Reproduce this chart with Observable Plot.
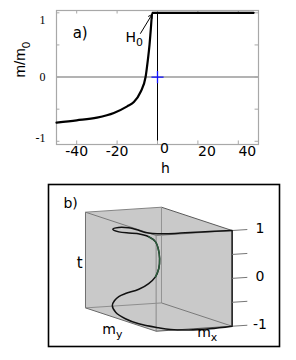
<!DOCTYPE html>
<html><head><meta charset="utf-8">
<script src="https://cdn.jsdelivr.net/npm/d3@7"></script>
<script src="https://cdn.jsdelivr.net/npm/@observablehq/plot@0.6"></script>
<style>
body{margin:0;background:#fff;}
#fig{position:relative;width:296px;height:360px;overflow:hidden;background:#fff;}
#fig svg{position:absolute;left:0;display:block;overflow:visible;}
</style></head><body><div id="fig"></div>
<script>
// ---------- panel a) data ----------
const hField = [-50, -40, -30, -21.6, -15, -11.7, -8.4, -5.9, -4.8, -3.95, -3.3, -2.6, 47.6];
const mNorm  = [-0.71, -0.674, -0.632, -0.56, -0.456, -0.39, -0.233, 0, 0.26, 0.5, 0.75, 1, 1];
const hTicks = [-40, -20, 0, 20, 40];
const mTicks = [-1, -0.5, 0, 0.5, 1];
const mTickLabels = [-1, 0, 1];
const fieldMarker = {h: 0, m: 0};
const h0Arrow = {h1: -8.4, m1: 0.68, h2: -2.7, m2: 0.975};
const h0Label = {h: -15.8, m: 0.62, text: "H_0"};
const panelALabel = {h: -42, m: 0.69, text: "a)"};

// ---------- panel b) data ----------
const cornerNames = ["A","B","C","D","E","F","G","H"];
const cornerMx = [-1, 1, 1, -1, -1, 1, 1, -1];
const cornerMy = [-1, -1, 1, 1, -1, -1, 1, 1];
const cornerT  = [1, 1, 1, 1, -1, -1, -1, -1];
const edgeFrom = ["A","B","C","D","A","B","C","D","E","F","G","H"];
const edgeTo   = ["B","C","D","A","E","F","G","H","F","G","H","E"];
const curveMx = [1, 0.34, -0.21, -0.57, -0.72, -0.89, -0.88, -0.69, -0.34, -0.28, -0.31, -0.44, -0.34, -0.22, -0.20, -0.27, -0.23, -0.23, -0.29, -0.45, -0.65, -0.80, -0.94, -0.96, -0.78, -0.71, -0.81, -0.94, -0.75, -0.30, 0.21, 1];
const curveMy = [1, 1.08, 1.07, 0.95, 0.77, 0.39, 0.0, -0.48, -0.95, -0.95, -0.80, -0.47, -0.20, -0.05, 0.12, 0.29, 0.27, 0.23, 0.22, 0.20, 0.08, 0.01, -0.12, -0.27, -0.30, -0.09, 0.30, 0.63, 0.91, 0.94, 0.96, 1];
const curveT  = [-1, -1, -1, -1, -1, -1, -0.99, -0.98, -0.97, -0.87, -0.75, -0.6, -0.45, -0.3, -0.12, 0.1, 0.3, 0.5, 0.64, 0.75, 0.8, 0.8, 0.8, 0.82, 0.84, 0.88, 0.93, 0.97, 1, 1, 1, 1];
const tTicks = [-1, -0.5, 0, 0.5, 1];
const tTickLabels = [-1, 0, 1];
const axisLabels3d = [
  {text: "b)",  mx: -1.58, my: -1, t: 1.21, anchor: "start"},
  {text: "t",   mx: -1.15, my: -1, t: -0.065, anchor: "middle"},
  {text: "m_y", mx: -1,    my: -0.525, t: -1.33, anchor: "start"},
  {text: "m_x", mx: 0.08,  my: 1, t: -1.09, anchor: "start"}
];

// oblique view of the (mx, my, t) box
const view = {mx: [0.794, 0.052], my: [0.738, -0.2435], t: [0, 1]};
const proj = (mx, my, t) => [view.mx[0]*mx + view.my[0]*my + view.t[0]*t,
                             view.mx[1]*mx + view.my[1]*my + view.t[1]*t];

function applySubscripts(root){
  root.querySelectorAll("text").forEach(el => {
    if (el.querySelector("tspan")) return;
    const s = el.textContent, k = s.indexOf("_");
    if (k < 0) return;
    el.textContent = s.slice(0, k);
    const ts = document.createElementNS("http://www.w3.org/2000/svg", "tspan");
    ts.setAttribute("dy", "0.38em");
    ts.setAttribute("font-size", "78%");
    ts.textContent = s.slice(k + 1);
    el.appendChild(ts);
  });
}

const fig = document.getElementById("fig");

// ---------- panel a ----------
const frameGray = "#a8a8a8";
const curveA = hField.map((h, i) => ({h, m: mNorm[i]}));
const yLo = -1.05, yHi = 1.036;
const plotA = Plot.plot({
  width: 296, height: 178,
  marginLeft: 56, marginRight: 38, marginTop: 10, marginBottom: 34,
  x: {domain: [-50, 50], axis: null},
  y: {domain: [yLo, yHi], axis: null},
  style: {fontFamily: "DejaVu Sans", fontSize: "13px", background: "transparent", color: "#000"},
  marks: [
    Plot.ruleY([0], {stroke: "#9a9a9a", strokeWidth: 1.4}),
    Plot.ruleX([0], {y1: yLo, y2: 1, stroke: "#000", strokeWidth: 1}),
    Plot.frame({stroke: frameGray, strokeWidth: 1.2}),
    Plot.ruleX(hTicks, {y1: yLo, y2: yLo + 0.055, stroke: frameGray}),
    Plot.ruleX(hTicks, {y1: yHi - 0.055, y2: yHi, stroke: frameGray}),
    Plot.ruleY(mTicks, {x1: -50, x2: -48.3, stroke: frameGray}),
    Plot.ruleY(mTicks, {x1: 48.3, x2: 50, stroke: frameGray}),
    Plot.line(curveA, {x: "h", y: "m", stroke: "#000", strokeWidth: 2.2, curve: "monotone-x"}),
    Plot.dot([fieldMarker], {x: "h", y: "m", symbol: "plus", r: 4, stroke: "#1010ff", strokeWidth: 1.3}),
    Plot.arrow([h0Arrow], {x1: "h1", y1: "m1", x2: "h2", y2: "m2", stroke: "#000", strokeWidth: 1, headLength: 6}),
    Plot.text([h0Label], {x: "h", y: "m", text: "text", textAnchor: "start", fontSize: 14}),
    Plot.text([panelALabel], {x: "h", y: "m", text: "text", textAnchor: "start", fontSize: 15}),
    // x tick labels
    Plot.text(hTicks.filter(v => v < 0), {x: d => d, frameAnchor: "bottom", dy: 11, text: d => String(d), fontSize: 14}),
    Plot.text(hTicks.filter(v => v === 0), {x: d => d, frameAnchor: "bottom", dy: 8, dx: 7, text: d => String(d), fontSize: 14}),
    Plot.text(hTicks.filter(v => v > 0), {x: d => d, frameAnchor: "bottom", dy: 11, dx: 9, text: d => String(d), fontSize: 14}),
    // y tick labels (serif)
    Plot.text(mTickLabels.filter(v => v > 0), {y: d => d, frameAnchor: "left", dx: -11, dy: 7, textAnchor: "end", text: d => String(d), fontFamily: "Liberation Serif", fontSize: 12}),
    Plot.text(mTickLabels.filter(v => v === 0), {y: d => d, frameAnchor: "left", dx: -11, dy: 0.5, textAnchor: "end", text: d => String(d), fontFamily: "Liberation Serif", fontSize: 12}),
    Plot.text(mTickLabels.filter(v => v < 0), {y: d => d, frameAnchor: "left", dx: -11, dy: -3.5, textAnchor: "end", text: d => String(d), fontFamily: "Liberation Serif", fontSize: 12}),
    // axis titles
    Plot.text(["h"], {frameAnchor: "bottom", dy: 28, dx: 8, text: d => d, fontSize: 14}),
    Plot.text(["m/m_0"], {frameAnchor: "left", dx: -36, rotate: -90, text: d => d, fontFamily: "Liberation Sans", fontSize: 15})
  ]
});
plotA.style.top = "0px";
applySubscripts(plotA);
fig.appendChild(plotA);

// ---------- panel b ----------
const corners = cornerNames.map((name, i) => {
  const [u, v] = proj(cornerMx[i], cornerMy[i], cornerT[i]);
  return {name, u, v};
});
const cornerByName = Object.fromEntries(corners.map(c => [c.name, c]));
const edges = edgeFrom.map((a, i) => ({a: cornerByName[a], b: cornerByName[edgeTo[i]], key: a + edgeTo[i]}));
const edgeStroke = {AB: "#858585", BC: "#5a5a5a", CD: "#777", DA: "#7a7a7a", AE: "#707070", BF: "#939393",
                    CG: "#000", DH: "#8a8a8a", EF: "#8e8e8e", FG: "#7a7a7a", GH: "#555", HE: "#6a6a6a"};
const curvePts = curveMx.map((mx, i) => {
  const [u, v] = proj(mx, curveMy[i], curveT[i]);
  return {u, v};
});
const tickSegs = tTicks.map(t => {
  const [u1, v1] = proj(1, 1, t), [u2, v2] = proj(1.4, 1, t);
  return {u1, v1, u2, v2};
});
const tickLbls = tTickLabels.map(t => {
  const [u, v] = proj(1.73, 1, t);
  return {u, v, text: String(t)};
});
const lbls3d = axisLabels3d.map(d => {
  const [u, v] = proj(d.mx, d.my, d.t);
  return {...d, u, v};
});

const plotB = Plot.plot({
  width: 296, height: 182,
  marginLeft: 48, marginRight: 17, marginTop: 6, marginBottom: 14,
  x: {domain: [-2.305, 2.522], axis: null},
  y: {domain: [-1.615, 1.770], axis: null},
  style: {fontFamily: "DejaVu Sans", fontSize: "13px", background: "transparent", color: "#000"},
  marks: [
    Plot.hull(corners, {x: "u", y: "v", fill: "#c9c9c9", stroke: "none"}),
    Plot.link(edges, {x1: d => d.a.u, y1: d => d.a.v, x2: d => d.b.u, y2: d => d.b.v,
                      stroke: d => edgeStroke[d.key], strokeWidth: d => d.key === "CG" ? 1.4 : 1}),
    Plot.link(tickSegs, {x1: "u1", y1: "v1", x2: "u2", y2: "v2", stroke: "#777", strokeWidth: 1}),
    Plot.line(curvePts, {x: "u", y: "v", stroke: "#111", strokeWidth: 1.5, curve: "catmull-rom"}),
    Plot.line(curvePts.slice(14, 20), {x: "u", y: "v", stroke: "#2c5f3e", strokeWidth: 1.4, curve: "catmull-rom"}),
    Plot.text(tickLbls, {x: "u", y: "v", text: "text", fontSize: 14}),
    Plot.text(lbls3d.filter(d => d.anchor === "start"), {x: "u", y: "v", text: "text", textAnchor: "start", fontSize: 14}),
    Plot.text(lbls3d.filter(d => d.anchor === "middle"), {x: "u", y: "v", text: "text", fontSize: 15}),
    Plot.frame({stroke: "#000", strokeWidth: 1.6})
  ]
});
plotB.style.top = "178px";
applySubscripts(plotB);
fig.appendChild(plotB);
</script>
</body></html>
